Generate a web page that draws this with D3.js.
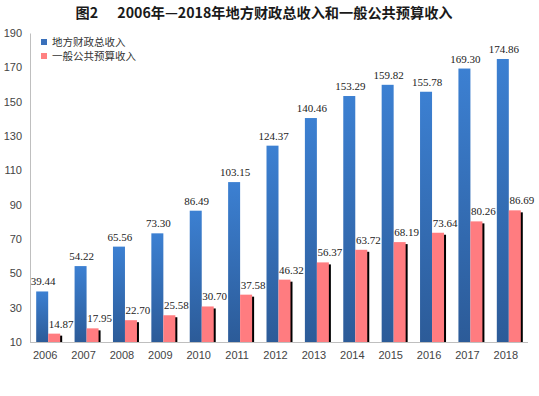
<!DOCTYPE html>
<html>
<head>
<meta charset="utf-8">
<script src="https://cdn.jsdelivr.net/npm/d3@7"></script>
<style>
  body { margin: 0; background: #fff; }
  svg { display: block; }
</style>
</head>
<body>
<div id="chart"></div>
<script>
  const years = ['2006', '2007', '2008', '2009', '2010', '2011', '2012', '2013', '2014', '2015', '2016', '2017', '2018'];
  const totalIncome = [39.44, 54.22, 65.56, 73.30, 86.49, 103.15, 124.37, 140.46, 153.29, 159.82, 155.78, 169.30, 174.86];
  const budgetIncome = [14.87, 17.95, 22.70, 25.58, 30.70, 37.58, 46.32, 56.37, 63.72, 68.19, 73.64, 80.26, 86.69];
  const seriesNames = ['地方财政总收入', '一般公共预算收入'];
  const yTicks = [10, 30, 50, 70, 90, 110, 130, 150, 170, 190];
  const title = '图2      2006年—2018年地方财政总收入和一般公共预算收入';

  const width = 539, height = 396;
  const svg = d3.select('#chart').append('svg')
    .attr('width', width)
    .attr('height', height);

  const defs = svg.append('defs');
  const grad = defs.append('linearGradient')
    .attr('id', 'blueGrad')
    .attr('x1', 0).attr('y1', 0).attr('x2', 0).attr('y2', 1);
  grad.append('stop').attr('offset', '0%').attr('stop-color', '#3c80d2');
  grad.append('stop').attr('offset', '100%').attr('stop-color', '#2c5b98');

  const x0 = d3.scaleBand()
    .domain(years)
    .range([29, 528])
    .paddingInner(0.375)
    .paddingOuter(0.1875);
  const x1 = d3.scaleBand()
    .domain([0, 1])
    .range([0, x0.bandwidth()]);
  const y = d3.scaleLinear()
    .domain([10, 190])
    .range([342, 33]);

  // title
  svg.append('text')
    .attr('x', 264)
    .attr('y', 18)
    .attr('text-anchor', 'middle')
    .attr('font-family', '"Noto Sans CJK SC", sans-serif')
    .attr('font-weight', 'bold')
    .attr('font-size', 14.2)
    .attr('fill', '#1a1a1a')
    .attr('xml:space', 'preserve')
    .text(title);

  // axes
  const yAxis = svg.append('g')
    .attr('transform', 'translate(30,0)')
    .call(d3.axisLeft(y).tickValues(yTicks).tickSize(0).tickPadding(8));
  yAxis.select('.domain').attr('stroke', '#bfbfbf');
  yAxis.selectAll('text')
    .attr('font-family', '"Liberation Sans", sans-serif')
    .attr('font-size', 11)
    .attr('fill', '#444');

  const xAxis = svg.append('g')
    .attr('transform', 'translate(0,342)')
    .call(d3.axisBottom(x0).tickSize(0).tickPadding(9).tickSizeOuter(0));
  xAxis.select('.domain').attr('stroke', '#bfbfbf').attr('d', 'M30,0.5H528');
  xAxis.selectAll('text')
    .attr('font-family', '"Liberation Sans", sans-serif')
    .attr('font-size', 11)
    .attr('fill', '#444')
    .attr('dx', -3);

  const groups = svg.append('g').selectAll('g')
    .data(years)
    .join('g')
    .attr('transform', d => `translate(${x0(d)},0)`);

  // blue bars
  groups.append('rect')
    .attr('x', x1(0))
    .attr('y', (d, i) => y(totalIncome[i]))
    .attr('width', x1.bandwidth())
    .attr('height', (d, i) => y(10) - y(totalIncome[i]))
    .attr('fill', 'url(#blueGrad)');

  // pink bar shadows
  groups.append('rect')
    .attr('x', x1(1) + 2)
    .attr('y', (d, i) => y(budgetIncome[i]) + 2)
    .attr('width', x1.bandwidth())
    .attr('height', (d, i) => y(10) - y(budgetIncome[i]) - 2)
    .attr('fill', '#000');

  groups.append('rect')
    .attr('x', x1(1))
    .attr('y', (d, i) => y(budgetIncome[i]))
    .attr('width', x1.bandwidth())
    .attr('height', (d, i) => y(10) - y(budgetIncome[i]))
    .attr('fill', '#ff7c80');

  // value labels
  const labelFont = '"Liberation Serif", serif';
  groups.append('text')
    .attr('x', x1(0) + x1.bandwidth() / 2 + 1)
    .attr('y', (d, i) => y(totalIncome[i]) - 6)
    .attr('text-anchor', 'middle')
    .attr('font-family', labelFont)
    .attr('font-size', 11)
    .attr('fill', '#222')
    .text((d, i) => totalIncome[i].toFixed(2));

  groups.append('text')
    .attr('x', x1(1) + x1.bandwidth() / 2 + 7)
    .attr('y', (d, i) => y(budgetIncome[i]) - 6)
    .attr('text-anchor', 'middle')
    .attr('font-family', labelFont)
    .attr('font-size', 11)
    .attr('fill', '#222')
    .text((d, i) => budgetIncome[i].toFixed(2));

  // legend
  const legendColors = ['#3a70ba', '#ff8080'];
  const legend = svg.append('g').selectAll('g')
    .data(seriesNames)
    .join('g')
    .attr('transform', (d, i) => `translate(41,${39 + i * 14})`);
  legend.append('rect')
    .attr('width', 6)
    .attr('height', 6)
    .attr('fill', (d, i) => legendColors[i]);
  legend.append('text')
    .attr('x', 11)
    .attr('y', 3)
    .attr('dy', '0.35em')
    .attr('font-family', '"Noto Sans CJK SC", sans-serif')
    .attr('font-size', 10.5)
    .attr('fill', '#333')
    .text(d => d);
</script>
</body>
</html>
